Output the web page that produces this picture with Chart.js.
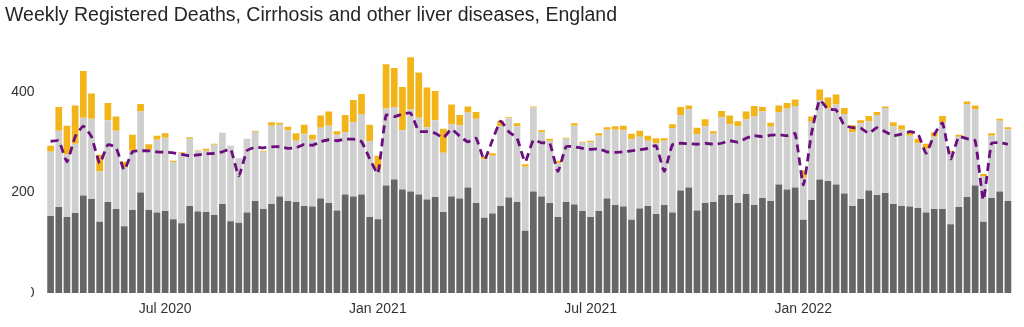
<!DOCTYPE html>
<html>
<head>
<meta charset="utf-8">
<title>Weekly Registered Deaths, Cirrhosis and other liver diseases, England</title>
<script src="https://cdn.jsdelivr.net/npm/chart.js@4/dist/chart.umd.min.js"></script>
<style>
    html, body { margin: 0; padding: 0; background: #fff; }
    #wrap { width: 1024px; height: 327px; }
</style>
</head>
<body>
<div id="wrap"><canvas id="grafico" width="1024" height="327"></canvas></div>
<script>
// weekly figures, first week ending 27 Mar 2020
const firstWeekEnding = '2020-03-27';

// bottom segment of each bar (dark grey)
const lowerBand = [
    153, 171, 151, 159, 194, 187, 142, 181, 167, 133, 165, 200, 165, 160, 163, 147, 139, 173, 162, 161,
    155, 177, 143, 140, 160, 183, 167, 177, 192, 183, 181, 173, 172, 188, 179, 164, 196, 192, 196, 151,
    147, 214, 226, 206, 202, 196, 186, 191, 161, 192, 188, 210, 179, 150, 158, 173, 190, 181, 124, 202,
    192, 179, 151, 181, 176, 163, 151, 163, 188, 175, 172, 146, 168, 173, 157, 175, 160, 204, 210, 164,
    179, 181, 195, 195, 179, 197, 175, 189, 183, 216, 206, 210, 146, 185, 226, 223, 216, 198, 173, 187,
    204, 195, 199, 177, 173, 172, 169, 160, 167, 167, 137, 171, 191, 214, 142, 189, 202, 183
];

// middle segment (light grey)
const middleBand = [
    128, 152, 125, 138, 155, 160, 100, 163, 156, 117, 118, 161, 120, 145, 146, 113, 139, 134, 121, 122,
    140, 142, 150, 128, 147, 138, 114, 156, 143, 141, 122, 144, 133, 141, 154, 151, 124, 148, 160, 151,
    100, 153, 144, 118, 163, 153, 144, 153, 118, 144, 146, 149, 168, 116, 115, 159, 158, 151, 127, 167,
    128, 124, 107, 126, 157, 136, 149, 150, 137, 150, 152, 160, 143, 130, 141, 128, 168, 150, 156, 152,
    153, 136, 155, 141, 153, 149, 176, 172, 148, 144, 161, 162, 84, 156, 157, 144, 159, 158, 147, 151,
    138, 159, 169, 155, 152, 141, 129, 127, 144, 172, 143, 140, 185, 152, 90, 124, 141, 143
];

// top segment (amber)
const upperBand = [
    12, 47, 57, 76, 93, 50, 33, 34, 28, 11, 32, 15, 11, 8, 9, 3, 2, 3, 1, 4,
    2, 0, 0, 0, 0, 2, 2, 7, 4, 7, 15, 18, 10, 24, 28, 7, 34, 44, 40, 33,
    26, 88, 78, 86, 104, 90, 79, 58, 48, 39, 20, 12, 13, 5, 5, 11, 2, 6, 5, 2,
    4, 4, 5, 2, 5, 2, 3, 5, 5, 7, 9, 11, 12, 10, 10, 5, 8, 16, 7, 13,
    14, 5, 12, 17, 10, 15, 21, 9, 8, 13, 11, 13, 14, 10, 22, 22, 20, 12, 14, 6,
    10, 6, 3, 8, 9, 6, 9, 10, 9, 13, 3, 4, 5, 7, 5, 5, 4, 4
];

// dashed line
const expected = [
    302, 303, 261, 311, 332, 311, 258, 295, 289, 245, 281, 283, 283, 281, 280, 279, 276, 273, 275, 277,
    278, 281, 286, 233, 283, 290, 289, 291, 291, 288, 289, 296, 294, 301, 305, 303, 306, 306, 301, 267,
    238, 354, 351, 356, 358, 322, 321, 318, 309, 326, 312, 301, 308, 265, 304, 342, 321, 308, 261, 304,
    299, 298, 242, 291, 291, 288, 286, 287, 281, 280, 281, 283, 285, 288, 293, 242, 295, 298, 297, 296,
    298, 296, 298, 303, 300, 308, 313, 311, 314, 315, 313, 317, 215, 318, 384, 366, 364, 334, 329, 328,
    318, 329, 321, 313, 316, 321, 317, 278, 315, 338, 267, 311, 307, 303, 185, 298, 299, 296
];

const tickLabels = ['Jul 2020', 'Jan 2021', 'Jul 2021', 'Jan 2022'];
const tickDates = ['2020-07-01', '2021-01-01', '2021-07-01', '2022-01-01'];
const yTicks = [0, 200, 400];

const colores = {
    lower: '#666666',
    middle: '#cfcfcf',
    upper: '#f2b418',
    line: '#6b0e7e',
    text: '#333333'
};

const dia = 24 * 3600 * 1000;
const inicio = new Date(firstWeekEnding + 'T00:00:00Z').getTime();
const semanas = lowerBand.map((_, i) => new Date(inicio + i * 7 * dia).toISOString().slice(0, 10));

// each tick label sits on the week ending closest to the 1st of its month
const etiquetas = {};
tickDates.forEach((d, k) => {
    const t = new Date(d + 'T00:00:00Z').getTime();
    let mejor = 0;
    semanas.forEach((s, i) => {
        const dist = Math.abs(new Date(s + 'T00:00:00Z').getTime() - t);
        const distMejor = Math.abs(new Date(semanas[mejor] + 'T00:00:00Z').getTime() - t);
        if (dist < distMejor) mejor = i;
    });
    etiquetas[mejor] = tickLabels[k];
});

// the zero label is cut off on its left side
const recorteCero = {
    id: 'recorteCero',
    afterDraw(chart) {
        const y = chart.scales.y.getPixelForValue(0);
        const ctx = chart.ctx;
        ctx.save();
        ctx.fillStyle = '#ffffff';
        ctx.fillRect(0, y - 10, 31, 20);
        ctx.restore();
    }
};

const barra = (label, data, color) => ({
    type: 'bar',
    label,
    data,
    backgroundColor: color,
    borderWidth: 0,
    barPercentage: 0.82,
    categoryPercentage: 1,
    stack: 'barras',
    order: 1
});

const ctx = document.getElementById('grafico').getContext('2d');
new Chart(ctx, {
    data: {
        labels: semanas,
        datasets: [
            barra('lower', lowerBand, colores.lower),
            barra('middle', middleBand, colores.middle),
            barra('upper', upperBand, colores.upper),
            {
                type: 'line',
                label: 'expected',
                data: expected,
                borderColor: colores.line,
                borderWidth: 2.8,
                borderDash: [8, 5],
                pointRadius: 0,
                tension: 0.15,
                fill: false,
                stack: 'linea',
                order: 0
            }
        ]
    },
    options: {
        responsive: false,
        animation: false,
        layout: { padding: { left: 5, right: 12, top: 0, bottom: 0 } },
        plugins: {
            legend: { display: false },
            tooltip: { enabled: false },
            title: {
                display: true,
                text: 'Weekly Registered Deaths, Cirrhosis and other liver diseases, England',
                align: 'start',
                color: '#262626',
                font: { family: '"Liberation Sans", Arial, sans-serif', size: 19.5, weight: 'normal' },
                padding: { top: 3.5, bottom: 14.85 }
            }
        },
        scales: {
            x: {
                stacked: true,
                grid: { display: false, drawTicks: false },
                border: { display: false },
                afterFit: (scale) => { scale.height = 34; },
                ticks: {
                    autoSkip: false,
                    maxRotation: 0,
                    padding: 8,
                    color: colores.text,
                    font: { family: '"Liberation Sans", Arial, sans-serif', size: 14 },
                    callback: (valor, i) => etiquetas[i] || ''
                }
            },
            y: {
                stacked: true,
                min: 0,
                max: 500,
                grid: { display: false, drawTicks: false },
                border: { display: false },
                afterFit: (scale) => { scale.width = 41.5; },
                afterBuildTicks: (scale) => {
                    scale.ticks = yTicks.map(v => ({ value: v }));
                },
                ticks: {
                    padding: 12,
                    color: colores.text,
                    font: { family: '"Liberation Sans", Arial, sans-serif', size: 14 }
                }
            }
        }
    },
    plugins: [recorteCero]
});
</script>
</body>
</html>
